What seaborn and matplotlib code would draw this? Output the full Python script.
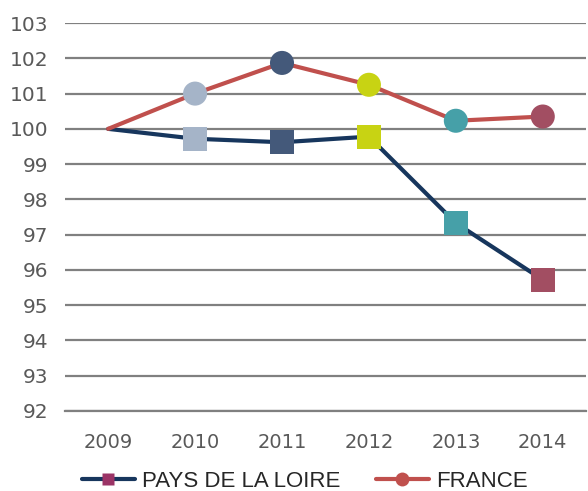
import matplotlib
matplotlib.use("Agg")
import matplotlib.pyplot as plt
import seaborn as sns
import pandas as pd
from matplotlib.lines import Line2D

# Index base 100 in 2009
years = ["2009", "2010", "2011", "2012", "2013", "2014"]
pays_de_la_loire = [100.0, 99.72, 99.62, 99.78, 97.33, 95.72]
france = [100.0, 101.0, 101.87, 101.25, 100.23, 100.35]
y_ticks = list(range(92, 104))

# one marker colour per year (2009 has no marker)
point_colors = [None, "#A5B4C8", "#44597A", "#C8D313", "#46A0A8", "#A24E62"]
line_colors = {"PAYS DE LA LOIRE": "#17365D", "FRANCE": "#C0504D"}

df = pd.DataFrame({
    "x": list(range(len(years))) * 2,
    "value": pays_de_la_loire + france,
    "serie": ["PAYS DE LA LOIRE"] * len(years) + ["FRANCE"] * len(years),
})

sns.set_style("white")
plt.rcParams["font.family"] = ["DejaVu Sans"]

fig = plt.figure(figsize=(5.88, 4.91), dpi=100)
ax = fig.add_axes([0.110, 0.163, 0.887, 0.790])

for y in y_ticks:
    ax.axhline(y, color="#808080", lw=1.6, zorder=0)

sns.lineplot(data=df, x="x", y="value", hue="serie", palette=line_colors,
             linewidth=3, legend=False, ax=ax, zorder=2)

pts = df[df["x"] > 0].copy()
pts["color"] = [point_colors[i] for i in pts["x"]]
for serie, marker in [("PAYS DE LA LOIRE", "s"), ("FRANCE", "o")]:
    sub = pts[pts["serie"] == serie]
    sns.scatterplot(data=sub, x="x", y="value", hue="color",
                    palette={c: c for c in sub["color"]}, marker=marker,
                    s=300, edgecolor="none", legend=False, ax=ax, zorder=3)

ax.set_xlim(-0.5, len(years) - 0.5)
ax.set_ylim(92, 103)
ax.set_yticks(y_ticks)
ax.set_xticks(range(len(years)))
ax.set_xticklabels(years)
ax.set_xticks([i - 0.5 for i in range(len(years) + 1)], minor=True)
ax.tick_params(axis="x", which="major", length=0, pad=16, labelsize=14,
               labelcolor="#595959")
ax.tick_params(axis="x", which="minor", length=7, width=1.6, color="#808080",
               direction="out")
ax.tick_params(axis="y", length=0, pad=12, labelsize=14.5, labelcolor="#595959")
ax.set_xlabel("")
ax.set_ylabel("")
for side in ["left", "right", "top"]:
    ax.spines[side].set_visible(False)
ax.spines["bottom"].set_color("#808080")
ax.spines["bottom"].set_linewidth(1.6)

handles = [
    Line2D([], [], color=line_colors["PAYS DE LA LOIRE"], lw=3, marker="s",
           markersize=9, markerfacecolor="#9B3466", markeredgecolor="none"),
    Line2D([], [], color=line_colors["FRANCE"], lw=3, marker="o",
           markersize=10, markerfacecolor="#C0504D", markeredgecolor="none"),
]
fig.legend(handles, ["PAYS DE LA LOIRE", "FRANCE"], loc="lower center",
           bbox_to_anchor=(0.518, -0.042), ncol=2, frameon=False,
           handlelength=2.4, columnspacing=1.6, handletextpad=0.3,
           prop={"family": "Liberation Sans", "size": 16})

fig.savefig("out.png", dpi=100)
